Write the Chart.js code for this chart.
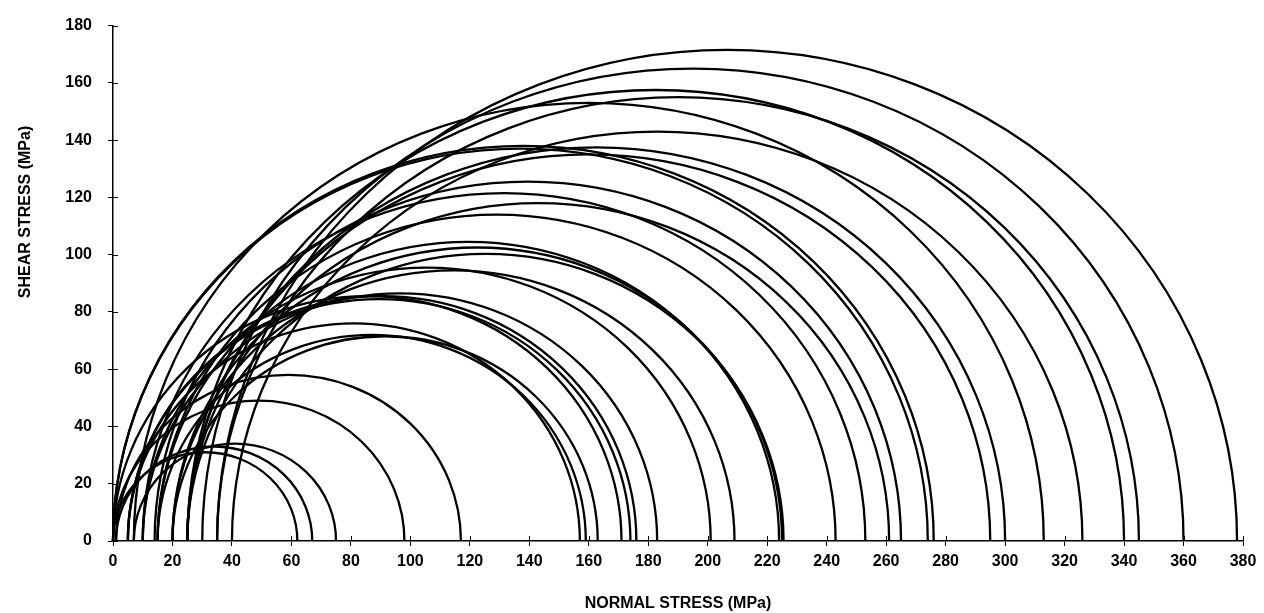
<!DOCTYPE html>
<html>
<head>
<meta charset="utf-8">
<title>Mohr circles</title>
<script src="https://cdn.jsdelivr.net/npm/chart.js@4.4.1/dist/chart.umd.min.js"></script>
<style>
  html, body { margin: 0; padding: 0; background: #ffffff; }
  #wrap { width: 1264px; height: 613px; position: relative; }
</style>
</head>
<body>
<div id="wrap"><canvas id="chart"></canvas></div>
<script>
// Minimum principal stress (sigma 3) of each test, MPa
const sigma3 = [0, 1, 7, 0, 1, 5, 15, 20, 0, 5, 5, 10, 10, 20, 15, 20, 25, 15, 10, 25, 14, 0, 0, 25, 25, 7, 40, 25, 35, 30, 35];
// Maximum principal stress (sigma 1) of each test, MPa
const sigma1 = [62, 67, 75, 98, 117, 157, 159, 163, 171, 174, 176, 183, 201, 209, 224, 225, 225.5, 243, 253, 261, 265, 274, 276, 295, 300, 313, 326, 340, 345, 360, 378];

const normalTicks = [0, 20, 40, 60, 80, 100, 120, 140, 160, 180, 200, 220, 240, 260, 280, 300, 320, 340, 360, 380];
const shearTicks = [0, 20, 40, 60, 80, 100, 120, 140, 160, 180];

const xTitle = 'NORMAL STRESS (MPa)';
const yTitle = 'SHEAR STRESS (MPa)';

const FONT = "'Liberation Sans', Arial, Helvetica, sans-serif";

// One dataset per test: the two points where its circle meets the normal-stress axis
const datasets = sigma3.map((s3, i) => ({
  label: 'Test ' + (i + 1),
  data: [{ x: s3, y: 0 }, { x: sigma1[i], y: 0 }],
  showLine: false,
  pointRadius: 0,
  borderColor: '#000',
  backgroundColor: '#000'
}));

// Draws each Mohr semicircle from its principal stresses via the chart scales
const mohrPlugin = {
  id: 'mohrCircles',
  beforeDraw(chart) {
    const ctx = chart.ctx;
    ctx.save();
    ctx.fillStyle = '#ffffff';
    ctx.fillRect(0, 0, chart.width, chart.height);
    ctx.restore();
  },
  afterDatasetsDraw(chart) {
    const { ctx, scales: { x, y } } = chart;
    ctx.save();
    ctx.strokeStyle = '#000';
    ctx.lineWidth = 2.3;
    chart.data.datasets.forEach(ds => {
      const a = ds.data[0].x, b = ds.data[1].x;
      const c = (a + b) / 2, r = (b - a) / 2;
      const cx = x.getPixelForValue(c);
      const rx = x.getPixelForValue(c + r) - cx;
      const cy = y.getPixelForValue(0);
      const ry = cy - y.getPixelForValue(r);
      ctx.beginPath();
      ctx.ellipse(cx, cy, rx, ry, 0, Math.PI, 2 * Math.PI);
      ctx.stroke();
    });
    ctx.restore();
  },
  afterDraw(chart) {
    const { ctx, scales: { x, y }, chartArea } = chart;
    ctx.save();
    // inner halves of the tick marks
    ctx.strokeStyle = '#000';
    ctx.lineWidth = 1;
    x.ticks.forEach(t => {
      const px = Math.round(x.getPixelForValue(t.value)) + 0.5;
      ctx.beginPath();
      ctx.moveTo(px, chartArea.bottom);
      ctx.lineTo(px, chartArea.bottom - 5);
      ctx.stroke();
    });
    y.ticks.forEach(t => {
      const py = Math.round(y.getPixelForValue(t.value)) + 0.5;
      ctx.beginPath();
      ctx.moveTo(chartArea.left, py);
      ctx.lineTo(chartArea.left + 5, py);
      ctx.stroke();
    });
    // axis titles
    ctx.fillStyle = '#000';
    ctx.font = 'bold 16px ' + FONT;
    ctx.textAlign = 'center';
    ctx.textBaseline = 'middle';
    ctx.fillText(xTitle, (chartArea.left + chartArea.right) / 2, 604);
    ctx.translate(26, 212);
    ctx.rotate(-Math.PI / 2);
    ctx.fillText(yTitle, 0, 0);
    ctx.restore();
  }
};

new Chart(document.getElementById('chart'), {
  type: 'scatter',
  data: { datasets },
  plugins: [mohrPlugin],
  options: {
    responsive: true,
    maintainAspectRatio: false,
    animation: false,
    layout: { padding: { left: 0, right: 21, top: 21, bottom: 0 } },
    plugins: { legend: { display: false }, tooltip: { enabled: false } },
    scales: {
      x: {
        type: 'linear',
        min: 0,
        max: 380,
        afterBuildTicks(scale) { scale.ticks = normalTicks.map(v => ({ value: v })); },
        afterFit(scale) { scale.height = 72; },
        ticks: { color: '#000', font: { family: FONT, size: 16, weight: 'bold' }, padding: 6, maxRotation: 0, autoSkip: false },
        grid: { display: true, drawOnChartArea: false, drawTicks: true, tickLength: 5, color: '#000', lineWidth: 1 },
        border: { display: true, color: '#000', width: 1.5 }
      },
      y: {
        type: 'linear',
        min: 0,
        max: 180,
        afterBuildTicks(scale) { scale.ticks = shearTicks.map(v => ({ value: v })); },
        afterFit(scale) { scale.width = 113; },
        ticks: { color: '#000', font: { family: FONT, size: 16, weight: 'bold' }, padding: 16, autoSkip: false },
        grid: { display: true, drawOnChartArea: false, drawTicks: true, tickLength: 5, color: '#000', lineWidth: 1 },
        border: { display: true, color: '#000', width: 1.5 }
      }
    }
  }
});
</script>
</body>
</html>
